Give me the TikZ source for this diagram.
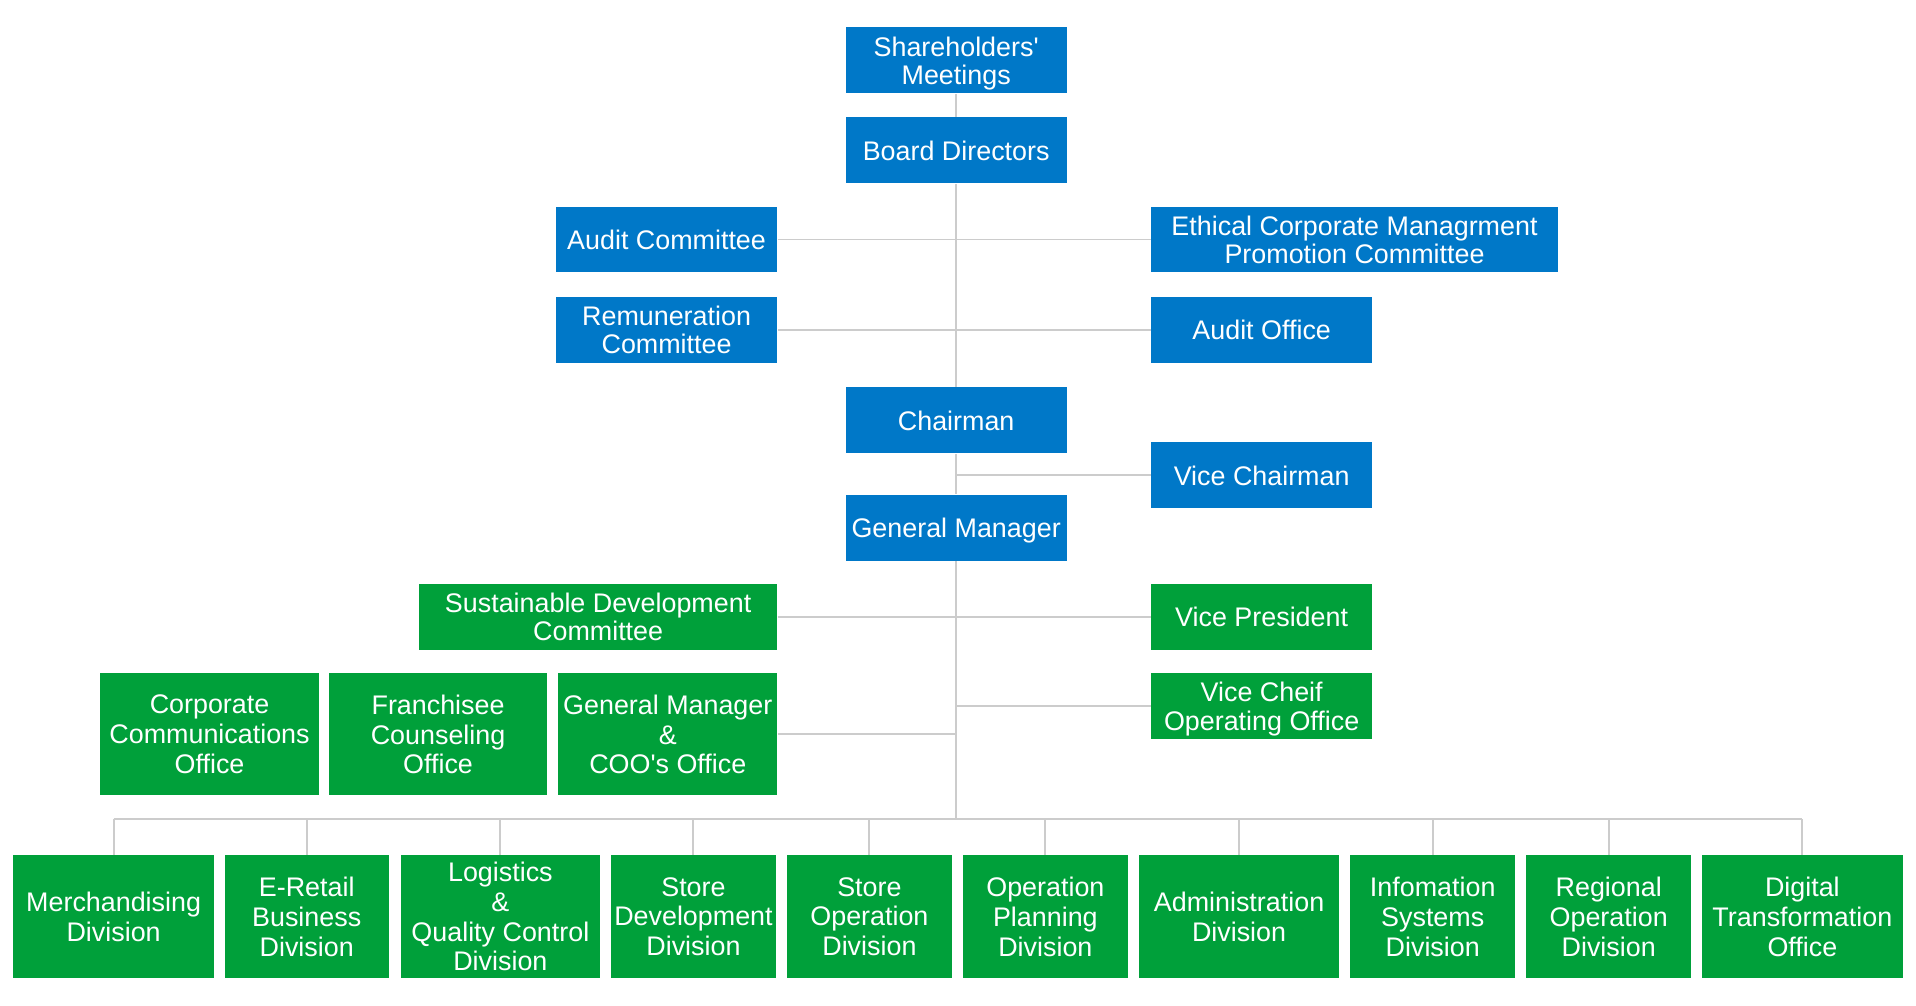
\documentclass[tikz,border=0pt]{standalone}
\usepackage{fontspec}
\setmainfont{Liberation Sans}
\definecolor{orgblue}{RGB}{0,120,200}
\definecolor{orggreen}{RGB}{0,160,58}
\definecolor{linegray}{RGB}{204,204,204}

\begin{document}
\begin{tikzpicture}[x=0.5pt,y=-0.5pt]
	\tikzstyle{box}=[rectangle,inner sep=0pt,text=white,align=center,text depth=-1.5pt,font=\fontsize{11}{12.2}\selectfont]
	\tikzstyle{bluebox}=[box,fill=orgblue,minimum width=90.5pt,minimum height=27pt]
	\tikzstyle{greenbox}=[box,fill=orggreen,minimum height=27pt]
	\tikzstyle{divbox}=[box,fill=orggreen,minimum height=50pt]
	\tikzstyle{link}=[draw=linegray,line width=0.8pt]
	\useasboundingbox (0,0) rectangle (1568,823);
	% board level
	\node[bluebox,font=\fontsize{11}{11.5}\selectfont](share) at (782.5,49.5) {Shareholders\textquotesingle\\Meetings};
	\node[bluebox](board) at (782.5,123) {Board Directors};
	\node[bluebox](auditc) at (545.5,196) {Audit Committee};
	\node[bluebox,minimum width=166.5pt,font=\fontsize{11}{11.5}\selectfont](ethic) at (1108.5,196) {Ethical Corporate Managrment\\Promotion Committee};
	\node[bluebox,font=\fontsize{11}{11.5}\selectfont](remun) at (545.5,270) {Remuneration\\Committee};
	\node[bluebox](auditoff) at (1032.5,270) {Audit Office};
	\node[bluebox](chair) at (782.5,344) {Chairman};
	\node[bluebox](vicech) at (1032.5,389) {Vice Chairman};
	\node[bluebox](gm) at (782.5,432) {General Manager};
	% executive level
	\node[greenbox,minimum width=146.5pt,font=\fontsize{11}{11.5}\selectfont](sdc) at (489.5,505) {Sustainable Development\\Committee};
	\node[greenbox,minimum width=90.5pt](vp) at (1032.5,505) {Vice President};
	\node[greenbox,minimum width=90.5pt,font=\fontsize{11}{11.5}\selectfont](vcoo) at (1032.5,578) {Vice Cheif\\Operating Office};
	\node[divbox,minimum width=89.5pt](cco) at (171.5,601) {Corporate\\Communications\\Office};
	\node[divbox,minimum width=89.5pt](fco) at (358.5,601) {Franchisee\\Counseling\\Office};
	\node[divbox,minimum width=89.5pt](gmcoo) at (546.5,601) {General Manager\\\&\\COO\textquotesingle s Office};
	% divisions
	\node[divbox,minimum width=82pt](d1) at (93,750) {Merchandising\\Division};
	\node[divbox,minimum width=67pt](d2) at (251,750) {E-Retail\\Business\\Division};
	\node[divbox,minimum width=81.5pt](d3) at (409.5,750) {Logistics\\\&\\Quality Control\\Division};
	\node[divbox,minimum width=67.5pt](d4) at (567.5,750) {Store\\Development\\Division};
	\node[divbox,minimum width=67.5pt](d5) at (711.5,750) {Store\\Operation\\Division};
	\node[divbox,minimum width=67.5pt](d6) at (855.5,750) {Operation\\Planning\\Division};
	\node[divbox,minimum width=82pt](d7) at (1014,750) {Administration\\Division};
	\node[divbox,minimum width=67.5pt](d8) at (1172.5,750) {Infomation\\Systems\\Division};
	\node[divbox,minimum width=67.5pt](d9) at (1316.5,750) {Regional\\Operation\\Division};
	\node[divbox,minimum width=82pt](d10) at (1475,750) {Digital\\Transformation\\Office};
	\coordinate (bus) at (782.5,670);
	% trunk
	\draw[link] (share) -- (board);
	\draw[link] (board) -- (chair);
	\draw[link] (chair) -- (gm);
	\draw[link] (gm) -- (bus);
	% side branches
	\draw[link] (auditc.east) -- (ethic.west);
	\draw[link] (remun.east) -- (auditoff.west);
	\draw[link] (vicech.west) -- (vicech.west -| chair.south);
	\draw[link] (sdc.east) -- (vp.west);
	\draw[link] (vcoo.west) -- (vcoo.west -| gm.south);
	\draw[link] (gmcoo.east) -- (gmcoo.east -| gm.south);
	% bus to divisions
	\draw[link] (d1.north |- bus) -- (d10.north |- bus);
	\draw[link] (d1.north) -- (d1.north |- bus);
	\draw[link] (d2.north) -- (d2.north |- bus);
	\draw[link] (d3.north) -- (d3.north |- bus);
	\draw[link] (d4.north) -- (d4.north |- bus);
	\draw[link] (d5.north) -- (d5.north |- bus);
	\draw[link] (d6.north) -- (d6.north |- bus);
	\draw[link] (d7.north) -- (d7.north |- bus);
	\draw[link] (d8.north) -- (d8.north |- bus);
	\draw[link] (d9.north) -- (d9.north |- bus);
	\draw[link] (d10.north) -- (d10.north |- bus);
\end{tikzpicture}
\end{document}
